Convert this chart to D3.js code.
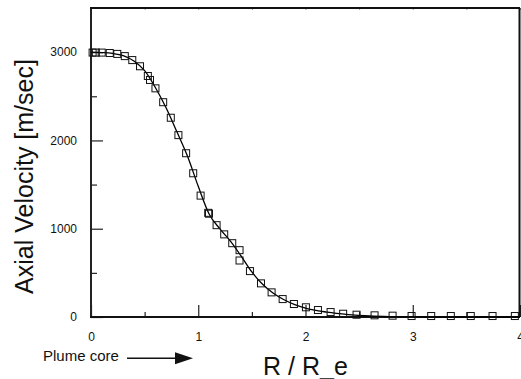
<!DOCTYPE html>
<html>
<head>
<meta charset="utf-8">
<script src="https://cdn.jsdelivr.net/npm/d3@7"></script>
<style>
  body { margin: 0; background: #fff; }
  svg { display: block; font-family: "Liberation Sans", Arial, sans-serif; }
</style>
</head>
<body>
<div id="chart"></div>
<script>
// square markers (R / R_e, axial velocity m/sec)
const markerR = [0.015, 0.045, 0.100, 0.175, 0.245, 0.315, 0.385, 0.457, 0.530, 0.550,
                 0.601, 0.673, 0.744, 0.815, 0.887, 0.953, 1.022, 1.093, 1.100, 1.171,
                 1.242, 1.317, 1.385, 1.385, 1.482, 1.585, 1.684, 1.787, 1.892, 2.004,
                 2.116, 2.234, 2.351, 2.476, 2.644, 2.812, 2.989, 3.172, 3.355, 3.541,
                 3.744, 3.952];
const markerV = [2995, 2995, 2995, 2990, 2980, 2955, 2910, 2840, 2730, 2685,
                 2590, 2433, 2257, 2060, 1855, 1628, 1375, 1180, 1170, 1040,
                 936, 836, 757, 640, 520, 381, 279, 203, 147, 110,
                 79, 56, 37, 26, 19, 15, 11, 11, 11, 11,
                 11, 11];

// solid curve
const lineR = [0, 0.1, 0.2, 0.3, 0.4, 0.5, 0.6, 0.7, 0.8, 0.9, 1.0, 1.1, 1.2, 1.3, 1.4,
               1.5, 1.6, 1.7, 1.8, 1.9, 2.0, 2.2, 2.4, 2.6, 2.8, 3.0, 3.5, 4.0];
const lineV = [3000, 2995, 2985, 2960, 2900, 2790, 2600, 2370, 2100, 1820, 1480, 1170, 1000, 860, 690,
               510, 370, 268, 195, 140, 100, 55, 28, 12, 5, 2, 0, 0];

const xMajor = [0, 1, 2, 3, 4];
const xMinor = [0.5, 1.5, 2.5, 3.5];
const yMajor = [0, 1000, 2000, 3000];
const yMinor = [500, 1500, 2500];

const width = 521, height = 379;
const margin = { top: 8, right: 1, bottom: 62, left: 91 };

const x = d3.scaleLinear().domain([0, 4]).range([margin.left, width - margin.right]);
const y = d3.scaleLinear().domain([0, 3500]).range([height - margin.bottom, margin.top]);

const svg = d3.select("#chart").append("svg")
   .attr("width", width)
   .attr("height", height);

// left axis, ticks point inward
svg.append("g")
   .attr("transform", `translate(${margin.left},0)`)
   .style("font-size", "12px")
   .call(d3.axisLeft(y).tickValues(yMajor).tickSize(-12).tickPadding(14).tickFormat(d3.format("d")))
   .call(g => g.select(".domain").remove())
   .call(g => g.selectAll(".tick line").attr("stroke", "#222").attr("stroke-width", 1.2))
   .call(g => g.selectAll("text").attr("fill", "#111").attr("font-family", "Liberation Sans, Arial, sans-serif"));

svg.append("g")
   .attr("transform", `translate(${margin.left},0)`)
   .call(d3.axisLeft(y).tickValues(yMinor).tickSize(-6).tickFormat(""))
   .call(g => g.select(".domain").remove())
   .call(g => g.selectAll(".tick line").attr("stroke", "#222").attr("stroke-width", 1.2));

// bottom axis
const y0 = y(0);
svg.append("g")
   .attr("transform", `translate(0,${y0})`)
   .style("font-size", "12px")
   .call(d3.axisBottom(x).tickValues(xMajor).tickSize(-12).tickPadding(15).tickFormat(d3.format("d")))
   .call(g => g.select(".domain").remove())
   .call(g => g.selectAll(".tick line").attr("stroke", "#222").attr("stroke-width", 1.2))
   .call(g => g.selectAll("text").attr("fill", "#111").attr("font-family", "Liberation Sans, Arial, sans-serif"));

svg.append("g")
   .attr("transform", `translate(0,${y0})`)
   .call(d3.axisBottom(x).tickValues(xMinor).tickSize(-5).tickFormat(""))
   .call(g => g.select(".domain").remove())
   .call(g => g.selectAll(".tick line").attr("stroke", "#222").attr("stroke-width", 1.2));

// faint ticks on the top edge
svg.append("g")
   .attr("transform", `translate(0,${margin.top})`)
   .call(d3.axisTop(x).tickValues(xMajor.concat(xMinor)).tickSize(-2).tickFormat(""))
   .call(g => g.select(".domain").remove())
   .call(g => g.selectAll(".tick line").attr("stroke", "#999").attr("stroke-width", 1));

// frame
const x0 = x(0), x4 = x(4), yTop = y(3500);
svg.append("line").attr("x1", x0).attr("x2", x0).attr("y1", yTop).attr("y2", y0)
   .attr("stroke", "#222").attr("stroke-width", 2);
svg.append("line").attr("x1", x0 - 1).attr("x2", x4).attr("y1", y0).attr("y2", y0)
   .attr("stroke", "#111").attr("stroke-width", 2);
svg.append("line").attr("x1", x0 - 1).attr("x2", x4).attr("y1", yTop).attr("y2", yTop)
   .attr("stroke", "#111").attr("stroke-width", 2);
svg.append("line").attr("x1", x4 - 0.5).attr("x2", x4 - 0.5).attr("y1", yTop).attr("y2", y0)
   .attr("stroke", "#111").attr("stroke-width", 2);

// curve
const linePts = lineR.map((r, i) => [x(r), y(lineV[i])]);
svg.append("path")
   .datum(linePts)
   .attr("fill", "none")
   .attr("stroke", "#000")
   .attr("stroke-width", 1.3)
   .attr("d", d3.line().curve(d3.curveMonotoneX));

// square markers
const s = 7;
svg.append("g")
   .selectAll("rect")
   .data(markerR.map((r, i) => [r, markerV[i]]))
   .join("rect")
   .attr("x", d => x(d[0]) - s / 2)
   .attr("y", d => y(d[1]) - s / 2)
   .attr("width", s)
   .attr("height", s)
   .attr("fill", "none")
   .attr("stroke", "#111")
   .attr("stroke-width", 1);

// titles
svg.append("text")
   .attr("transform", `translate(33,${(y(0) + y(3500)) / 2 + 14}) rotate(-90)`)
   .attr("text-anchor", "middle")
   .style("font-size", "25px")
   .attr("fill", "#111")
   .text("Axial Velocity [m/sec]");

svg.append("text")
   .attr("x", x(2))
   .attr("y", 375)
   .attr("text-anchor", "middle")
   .style("font-size", "25px")
   .attr("fill", "#111")
   .text("R / R_e");

// plume core arrow
svg.append("text")
   .attr("x", 43)
   .attr("y", 361)
   .style("font-size", "15px")
   .attr("fill", "#111")
   .text("Plume core");

svg.append("line")
   .attr("x1", 127).attr("x2", 178).attr("y1", 358.3).attr("y2", 358.3)
   .attr("stroke", "#111").attr("stroke-width", 1.5);
svg.append("path")
   .attr("d", "M175,352.3 L193,358.3 L175,364.3 Z")
   .attr("fill", "#111");
</script>
</body>
</html>
